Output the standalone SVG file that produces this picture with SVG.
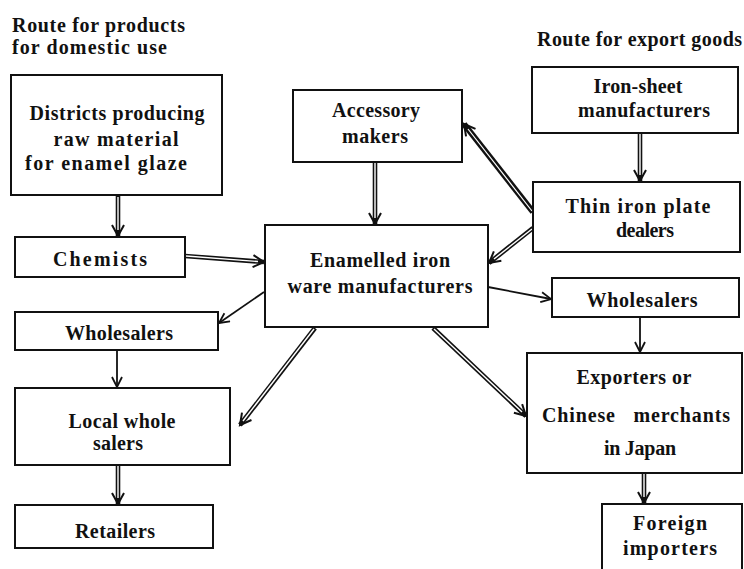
<svg xmlns="http://www.w3.org/2000/svg" width="744" height="569" viewBox="0 0 744 569">
<style>
.box{fill:#fff;stroke:#111;stroke-width:2}
text{font-family:"Liberation Serif","Times New Roman",serif;font-weight:bold;font-size:20px;fill:#111;text-anchor:middle}
.hd{text-anchor:start}
.single{stroke:#111;stroke-width:1.8;fill:none}
.dblo{stroke:#111;stroke-width:4.6;fill:none}
.dbli{stroke:#fff;stroke-width:1.4;fill:none}
.thko{stroke:#111;stroke-width:6;fill:none}
.thki{stroke:#fff;stroke-width:1.2;fill:none}
</style>
<defs>
<marker id="ah" markerUnits="userSpaceOnUse" markerWidth="14" markerHeight="14" refX="11" refY="6" orient="auto">
<path d="M1,1 L11,6 L1,11" fill="none" stroke="#111" stroke-width="1.8"/>
</marker>
<marker id="ahd" markerUnits="userSpaceOnUse" markerWidth="16" markerHeight="16" refX="12" refY="7" orient="auto">
<path d="M1,1 L12,7 L1,13" fill="none" stroke="#111" stroke-width="2"/>
</marker>
</defs>
<rect width="744" height="569" fill="#fff"/>
<text class="hd" x="12" y="32" textLength="173" lengthAdjust="spacing">Route for products</text>
<text class="hd" x="12" y="54" textLength="155" lengthAdjust="spacing">for domestic use</text>
<text class="hd" x="537" y="46" textLength="205" lengthAdjust="spacing">Route for export goods</text>

<g id="connectors">
<line class="dblo" x1="118" y1="196" x2="118" y2="236" marker-end="url(#ahd)"/>
<line class="dbli" x1="118" y1="197" x2="118" y2="230"/>
<line class="dblo" x1="185" y1="256" x2="264" y2="262" marker-end="url(#ahd)"/>
<line class="dbli" x1="186" y1="256" x2="258" y2="261.5"/>
<line class="dblo" x1="375" y1="162" x2="375" y2="224" marker-end="url(#ahd)"/>
<line class="dbli" x1="375" y1="163" x2="375" y2="218"/>
<line class="thko" x1="533" y1="212" x2="464" y2="124" marker-end="url(#ahd)"/>
<line class="thki" x1="532" y1="211" x2="468" y2="129"/>
<line class="dblo" x1="533" y1="228" x2="489" y2="263" marker-end="url(#ahd)"/>
<line class="dbli" x1="532" y1="229" x2="494" y2="259"/>
<line class="dblo" x1="640" y1="133" x2="640" y2="181" marker-end="url(#ahd)"/>
<line class="dbli" x1="640" y1="134" x2="640" y2="175"/>
<line class="single" x1="488" y1="287" x2="551" y2="299" marker-end="url(#ah)"/>
<line class="single" x1="264" y1="292" x2="219" y2="323" marker-end="url(#ah)"/>
<line class="single" x1="117" y1="350" x2="117" y2="387" marker-end="url(#ah)"/>
<line class="dblo" x1="315" y1="328" x2="240" y2="425" marker-end="url(#ahd)"/>
<line class="dbli" x1="314" y1="329" x2="243" y2="421"/>
<line class="dblo" x1="118" y1="465" x2="118" y2="504" marker-end="url(#ahd)"/>
<line class="dbli" x1="118" y1="466" x2="118" y2="498"/>
<line class="dblo" x1="433" y1="328" x2="526" y2="416" marker-end="url(#ahd)"/>
<line class="dbli" x1="434" y1="329" x2="522" y2="412"/>
<line class="single" x1="640" y1="317" x2="640" y2="352" marker-end="url(#ah)"/>
<line class="dblo" x1="644" y1="473" x2="644" y2="503" marker-end="url(#ahd)"/>
<line class="dbli" x1="644" y1="474" x2="644" y2="497"/>
</g>

<g id="districts">
<rect class="box" x="11" y="75" width="211" height="120"/>
<text x="117" y="120" textLength="175" lengthAdjust="spacing">Districts producing</text>
<text x="116" y="146" textLength="125" lengthAdjust="spacing">raw material</text>
<text x="106" y="170" textLength="162" lengthAdjust="spacing">for enamel glaze</text>
</g>
<g id="chemists">
<rect class="box" x="15" y="237" width="170" height="40"/>
<text x="100" y="266" textLength="94" lengthAdjust="spacing">Chemists</text>
</g>
<g id="accessory">
<rect class="box" x="293" y="90" width="169" height="72"/>
<text x="376" y="117" textLength="88" lengthAdjust="spacing">Accessory</text>
<text x="375" y="143" textLength="66" lengthAdjust="spacing">makers</text>
</g>
<g id="enamelled">
<rect class="box" x="265" y="225" width="223" height="102"/>
<text x="380" y="267" textLength="140" lengthAdjust="spacing">Enamelled iron</text>
<text x="380" y="293" textLength="185" lengthAdjust="spacing">ware manufacturers</text>
</g>
<g id="ironsheet">
<rect class="box" x="532" y="67" width="206" height="66"/>
<text x="638" y="93" textLength="89" lengthAdjust="spacing">Iron-sheet</text>
<text x="644" y="117" textLength="132" lengthAdjust="spacing">manufacturers</text>
</g>
<g id="thiniron">
<rect class="box" x="533" y="182" width="207" height="70"/>
<text x="638" y="213" textLength="145" lengthAdjust="spacing">Thin iron plate</text>
<text x="645" y="237" textLength="58" lengthAdjust="spacing">dealers</text>
</g>
<g id="wholesalers-right">
<rect class="box" x="552" y="278" width="187" height="39"/>
<text x="642" y="307" textLength="111" lengthAdjust="spacing">Wholesalers</text>
</g>
<g id="wholesalers-left">
<rect class="box" x="15" y="312" width="203" height="38"/>
<text x="119" y="340" textLength="108" lengthAdjust="spacing">Wholesalers</text>
</g>
<g id="local">
<rect class="box" x="15" y="388" width="215" height="77"/>
<text x="122" y="428" textLength="107" lengthAdjust="spacing">Local whole</text>
<text x="118" y="450" textLength="50" lengthAdjust="spacing">salers</text>
</g>
<g id="retailers">
<rect class="box" x="15" y="505" width="198" height="43"/>
<text x="115" y="538" textLength="80" lengthAdjust="spacing">Retailers</text>
</g>
<g id="exporters">
<rect class="box" x="527" y="353" width="215" height="120"/>
<text x="634" y="384" textLength="115" lengthAdjust="spacing">Exporters or</text>
<text x="636" y="422" textLength="188" lengthAdjust="spacing" xml:space="preserve">Chinese   merchants</text>
<text x="640" y="455" textLength="72" lengthAdjust="spacing">in Japan</text>
</g>
<g id="foreign">
<rect class="box" x="602" y="504" width="140" height="80"/>
<text x="670" y="530" textLength="74" lengthAdjust="spacing">Foreign</text>
<text x="670" y="555" textLength="94" lengthAdjust="spacing">importers</text>
</g>
</svg>
